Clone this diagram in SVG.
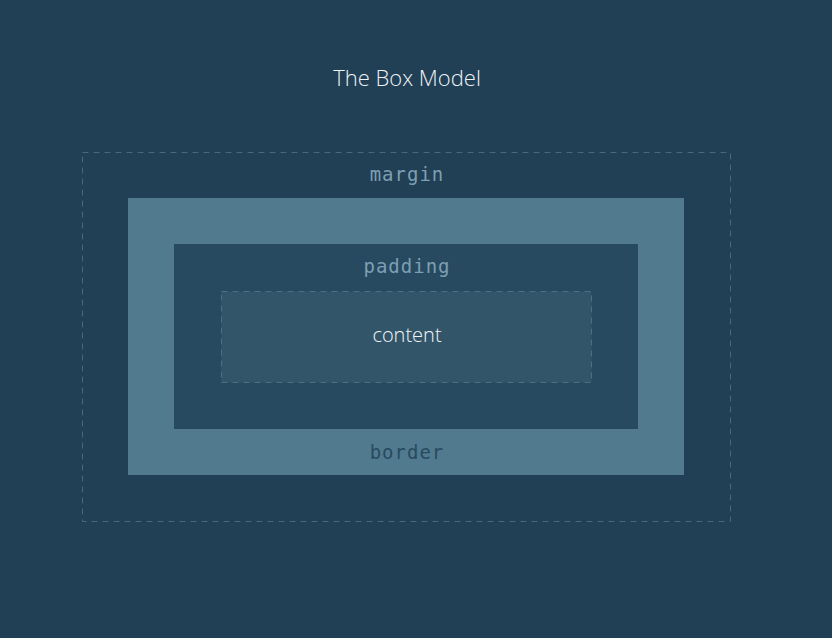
<svg xmlns="http://www.w3.org/2000/svg" width="832" height="638" viewBox="0 0 832 638">
<style>
.mono{font-family:"DejaVu Sans Mono","Liberation Mono",monospace;font-size:19px;text-anchor:middle;letter-spacing:1px}
.sans{font-family:"Open Sans","Noto Sans",sans-serif;font-weight:300;text-anchor:middle}
</style>
<rect width="832" height="638" fill="#213f55"/>
<text class="sans" x="407" y="86" font-size="22" fill="#eef3f6">The Box Model</text>
<g id="margin">
<rect x="82.5" y="152.5" width="648" height="369" fill="none" stroke="#47687d" stroke-width="1" stroke-dasharray="6 5"/>
<text class="mono" x="407" y="181" fill="#7d9fb3">margin</text>
</g>
<g id="border">
<rect x="128" y="198" width="556" height="277" fill="#517a8f"/>
<text class="mono" x="407" y="459" fill="#284a60">border</text>
</g>
<g id="padding">
<rect x="174" y="244" width="464" height="185" fill="#284a60"/>
<text class="mono" x="407" y="273" fill="#7d9fb3">padding</text>
</g>
<g id="content">
<rect x="221.5" y="291.5" width="370" height="91" fill="#325569" stroke="#4d6f84" stroke-width="1" stroke-dasharray="6 5"/>
<text class="sans" x="407" y="342" font-size="20" fill="#f2f6f8">content</text>
</g>
<g id="connectors"/>
</svg>
